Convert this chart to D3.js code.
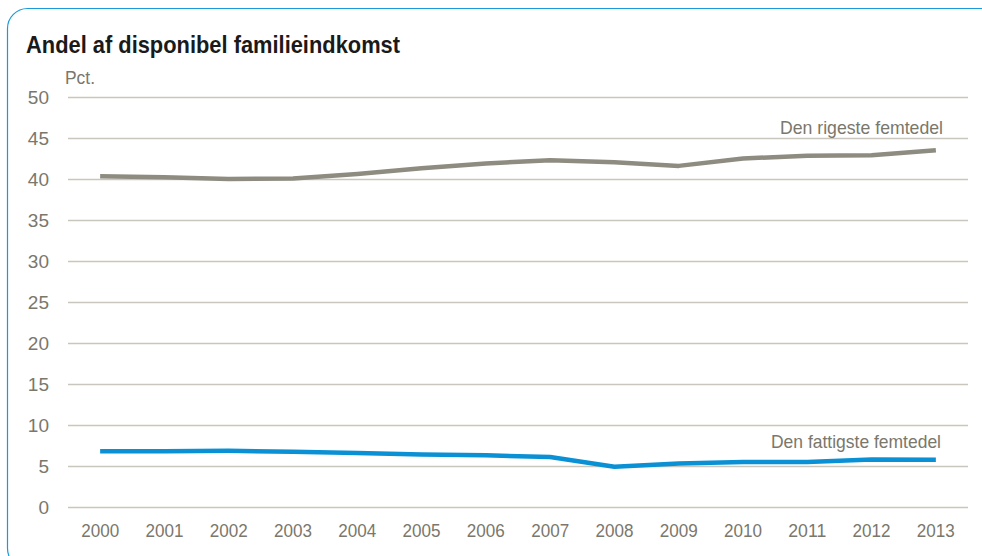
<!DOCTYPE html>
<html><head><meta charset="utf-8">
<script src="https://cdn.jsdelivr.net/npm/d3@7"></script>
<style>
body{margin:0;background:#fff;}
svg text{font-family:"Liberation Sans Narrow","Arial Narrow","Liberation Sans",sans-serif;}
</style></head>
<body><svg id="c" width="982" height="556"></svg>
<script>
const years = ["2000","2001","2002","2003","2004","2005","2006","2007","2008","2009","2010","2011","2012","2013"];
const richest = [40.35,40.2,40.0,40.05,40.6,41.3,41.9,42.3,42.05,41.6,42.5,42.85,42.9,43.5];
const poorest = [6.8,6.8,6.85,6.75,6.6,6.4,6.3,6.1,4.9,5.3,5.5,5.5,5.8,5.75];
const yTicks = [0,5,10,15,20,25,30,35,40,45,50];
const title = "Andel af disponibel familieindkomst";
const unit = "Pct.";
const seriesNames = ["Den rigeste femtedel","Den fattigste femtedel"];

const svg = d3.select("#c");
svg.append("rect").attr("x",7.5).attr("y",8.5).attr("width",995).attr("height",560)
  .attr("rx",20).attr("fill","none").attr("stroke","#1a9ad8").attr("stroke-width",1.2);

const x = d3.scaleBand().domain(years).range([68,968]);
const y = d3.scaleLinear().domain([0,50]).range([507,97]);
const textCol = "#7a776c";

svg.append("text").attr("x",26).attr("y",53).text(title)
  .attr("font-size",24).attr("font-weight","bold").attr("fill","#1a1a1a")
  .attr("textLength",374).attr("lengthAdjust","spacingAndGlyphs");
svg.append("text").attr("x",65).attr("y",84).text(unit).attr("font-size",18).attr("fill",textCol)
  .attr("textLength",30).attr("lengthAdjust","spacingAndGlyphs");

const yAxis = svg.append("g").attr("transform","translate(68,0)")
  .call(d3.axisLeft(y).tickValues(yTicks).tickSize(-900).tickPadding(19));
yAxis.select(".domain").remove();
yAxis.selectAll(".tick line").attr("stroke","#c9c7bd").attr("stroke-width",1.3);
yAxis.selectAll(".tick text").attr("font-size",19).attr("fill",textCol);

const xAxis = svg.append("g").attr("transform","translate(0,507)")
  .call(d3.axisBottom(x).tickSize(0).tickPadding(17));
xAxis.select(".domain").remove();
xAxis.selectAll(".tick text").attr("font-size",19).attr("fill",textCol)
  .attr("textLength",38).attr("lengthAdjust","spacingAndGlyphs");

const line = d3.line().x((d,i)=>x(years[i])+x.bandwidth()/2).y(d=>y(d));
svg.append("path").datum(richest).attr("d",line).attr("fill","none")
  .attr("stroke","#8e8c80").attr("stroke-width",4.5).attr("stroke-linejoin","round");
svg.append("path").datum(poorest).attr("d",line).attr("fill","none")
  .attr("stroke","#0a90d4").attr("stroke-width",4.5).attr("stroke-linejoin","round");

svg.append("text").attr("x",943).attr("y",134).attr("text-anchor","end")
  .text(seriesNames[0]).attr("font-size",19).attr("fill",textCol)
  .attr("textLength",163).attr("lengthAdjust","spacingAndGlyphs");
svg.append("text").attr("x",941).attr("y",448).attr("text-anchor","end")
  .text(seriesNames[1]).attr("font-size",19).attr("fill",textCol)
  .attr("textLength",170).attr("lengthAdjust","spacingAndGlyphs");
</script></body></html>
